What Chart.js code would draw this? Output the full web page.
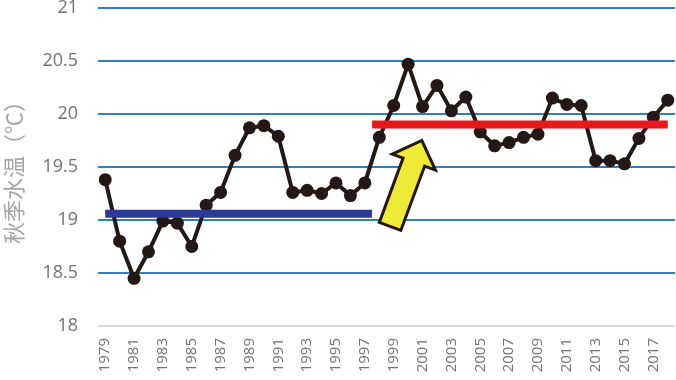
<!DOCTYPE html>
<html>
<head>
<meta charset="utf-8">
<script src="https://cdn.jsdelivr.net/npm/chart.js@4"></script>
<style>
html, body { margin: 0; padding: 0; background: #fff; }
#wrap { width: 676px; height: 380px; }
</style>
</head>
<body>
<div id="wrap"><canvas id="chart" width="676" height="380"></canvas></div>
<script>
const years = ['1979','1980','1981','1982','1983','1984','1985','1986','1987','1988',
               '1989','1990','1991','1992','1993','1994','1995','1996','1997','1998',
               '1999','2000','2001','2002','2003','2004','2005','2006','2007','2008',
               '2009','2010','2011','2012','2013','2014','2015','2016','2017','2018'];
const autumnTemp = [19.38, 18.80, 18.45, 18.70, 18.99, 18.97, 18.75, 19.14, 19.26, 19.61,
                    19.87, 19.89, 19.79, 19.26, 19.28, 19.25, 19.35, 19.23, 19.35, 19.78,
                    20.08, 20.47, 20.07, 20.27, 20.03, 20.16, 19.83, 19.70, 19.73, 19.78,
                    19.81, 20.15, 20.09, 20.08, 19.56, 19.56, 19.53, 19.77, 19.97, 20.13];
const yTicks = [18, 18.5, 19, 19.5, 20, 20.5, 21];
// period averages
const periodYears = [['1979', '1997'], ['1998', '2018']];
const periodMeans = [19.06, 19.90];
const periodColors = ['#2B3A95', '#E8161D'];
// arrow: [fractional year, value]
const arrowTail = [1998.75, 18.94];
const arrowTip = [2000.95, 19.75];

const overlay = {
    id: 'overlay',
    afterDatasetsDraw(chart) {
        const ctx = chart.ctx;
        const xs = chart.scales.x, ys = chart.scales.y;
        const px = i => xs.getPixelForValue(i);

        // average bars
        ctx.save();
        ctx.lineWidth = 8;
        ctx.lineCap = 'butt';
        periodYears.forEach((p, k) => {
            const i0 = years.indexOf(p[0]);
            const i1 = years.indexOf(p[1]);
            const left = i0 === 0 ? px(i0) : (px(i0 - 1) + px(i0)) / 2;
            const right = i1 === years.length - 1 ? px(i1) : (px(i1) + px(i1 + 1)) / 2;
            const yy = ys.getPixelForValue(periodMeans[k]);
            ctx.strokeStyle = periodColors[k];
            ctx.beginPath();
            ctx.moveTo(left, yy);
            ctx.lineTo(right, yy);
            ctx.stroke();
        });

        // yellow arrow
        const bx = px(arrowTail[0] - 1979), by = ys.getPixelForValue(arrowTail[1]);
        const tx = px(arrowTip[0] - 1979), ty = ys.getPixelForValue(arrowTip[1]);
        const len = Math.hypot(tx - bx, ty - by);
        const ux = (tx - bx) / len, uy = (ty - by) / len;
        const nx = -uy, ny = ux;
        const shaftW = 11.5, headW = 23, headL = 23;
        const hx = tx - ux * headL, hy = ty - uy * headL;
        ctx.beginPath();
        ctx.moveTo(bx + nx * shaftW, by + ny * shaftW);
        ctx.lineTo(hx + nx * shaftW, hy + ny * shaftW);
        ctx.lineTo(hx + nx * headW, hy + ny * headW);
        ctx.lineTo(tx, ty);
        ctx.lineTo(hx - nx * headW, hy - ny * headW);
        ctx.lineTo(hx - nx * shaftW, hy - ny * shaftW);
        ctx.lineTo(bx - nx * shaftW, by - ny * shaftW);
        ctx.closePath();
        ctx.fillStyle = '#EEEA37';
        ctx.fill();
        ctx.lineWidth = 3;
        ctx.lineJoin = 'miter';
        ctx.strokeStyle = '#231815';
        ctx.stroke();
        ctx.restore();
    }
};

new Chart(document.getElementById('chart'), {
    type: 'line',
    data: {
        labels: years,
        datasets: [{
            data: autumnTemp,
            borderColor: '#231815',
            backgroundColor: '#231815',
            borderWidth: 4,
            pointRadius: 6.5,
            pointBorderWidth: 0,
            pointBackgroundColor: '#231815',
            tension: 0
        }]
    },
    options: {
        responsive: false,
        animation: false,
        layout: { autoPadding: false, padding: { top: 8, right: 1, left: 0, bottom: 0 } },
        plugins: { legend: { display: false }, tooltip: { enabled: false } },
        scales: {
            x: {
                offset: true,
                grid: { display: false, drawTicks: false },
                border: { display: false },
                ticks: {
                    autoSkip: false,
                    minRotation: 90,
                    maxRotation: 90,
                    padding: 12,
                    color: '#727272',
                    font: { family: 'Open Sans', size: 15 },
                    callback: (v, i) => i % 2 === 0 ? years[i] : ''
                },
                afterFit(s) {
                    s.height = 54;
                    s.paddingLeft = 0;
                    s.paddingRight = 0;
                }
            },
            y: {
                min: 18,
                max: 21,
                afterBuildTicks(s) { s.ticks = yTicks.map(v => ({ value: v })); },
                grid: {
                    color: c => c.tick && c.tick.value === 18 ? '#D9D9D9' : '#2F7FC1',
                    lineWidth: 2,
                    drawTicks: false
                },
                border: { display: false },
                ticks: {
                    padding: 20,
                    color: '#727272',
                    font: { family: 'Open Sans', size: 18 },
                    callback: v => String(v)
                },
                title: {
                    display: true,
                    text: '秋季水温（℃）',
                    color: '#A6A6A6',
                    font: { family: 'Noto Sans CJK SC', size: 22 },
                    padding: { top: 0, bottom: 0 }
                },
                afterFit(s) {
                    s.width = 98;
                    s.paddingTop = 0;
                    s.paddingBottom = 0;
                }
            }
        }
    },
    plugins: [overlay]
});
</script>
</body>
</html>
